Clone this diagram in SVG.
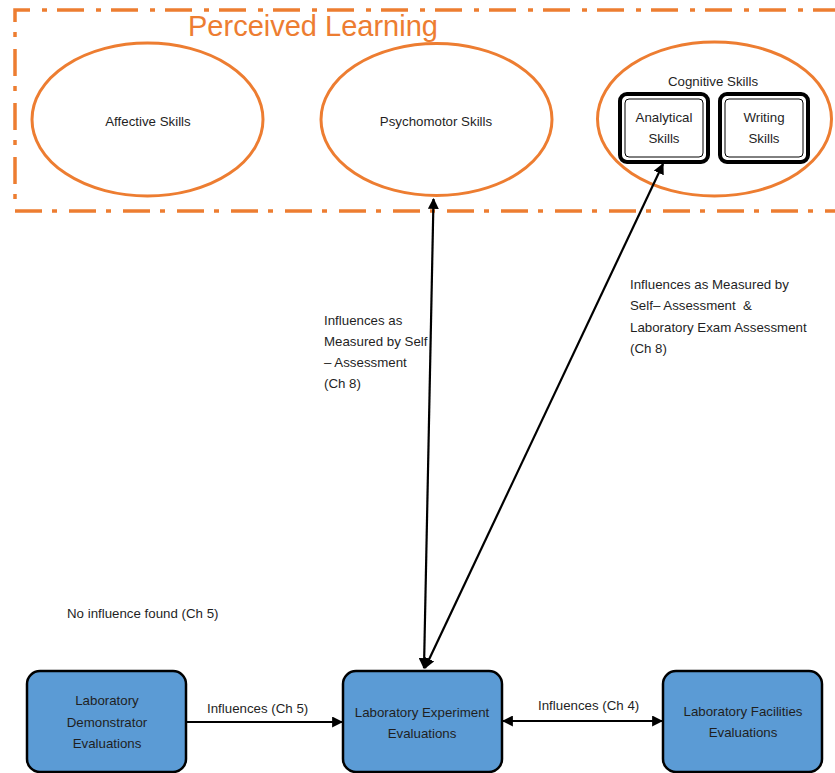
<svg xmlns="http://www.w3.org/2000/svg" width="835" height="773" viewBox="0 0 835 773">
  <style>
    .t { font-family: "Liberation Sans", Arial, sans-serif; font-size: 13.3px; fill: #1f1f1f; }
    .c { text-anchor: middle; }
    .oval { fill: #ffffff; stroke: #ED7D31; stroke-width: 3; }
    .box { fill: #5B9BD5; stroke: #000000; stroke-width: 2.5; }
    .conn { stroke: #000000; stroke-width: 2.2; fill: none; }
  </style>
  <defs>
    <marker id="head" viewBox="0 0 10 10" refX="9" refY="5" markerWidth="5" markerHeight="5" orient="auto-start-reverse" markerUnits="strokeWidth">
      <path d="M0,0 L10,5 L0,10 Z" fill="#000"/>
    </marker>
  </defs>
  <rect width="835" height="773" fill="#ffffff"/>

  <!-- Perceived Learning boundary (open on the right) -->
  <g id="perceived-learning">
    <path d="M840,10 L15,10 L15,211 L840,211" fill="none" stroke="#ED7D31" stroke-width="3.5" stroke-dasharray="27 10 5 12"/>
    <text x="188" y="36" font-family="Liberation Sans, Arial, sans-serif" font-size="29" fill="#ED7D31">Perceived Learning</text>
  </g>

  <g id="affective">
    <ellipse class="oval" cx="147.5" cy="119.5" rx="115.5" ry="76.5"/>
    <text class="t c" x="148" y="126">Affective Skills</text>
  </g>

  <g id="psychomotor">
    <ellipse class="oval" cx="436.5" cy="119.5" rx="115.5" ry="76"/>
    <text class="t c" x="436" y="126">Psychomotor Skills</text>
  </g>

  <g id="cognitive">
    <ellipse class="oval" cx="714.5" cy="119" rx="117" ry="77"/>
    <text class="t c" x="713" y="86">Cognitive Skills</text>
  </g>

  <g id="analytical">
    <rect x="620" y="94" width="88" height="68" rx="7" fill="#fff" stroke="#000" stroke-width="4"/>
    <rect x="625" y="99" width="78" height="58" rx="4" fill="#fff" stroke="#000" stroke-width="1"/>
    <text class="t c" x="664" y="122">Analytical</text>
    <text class="t c" x="664" y="143">Skills</text>
  </g>

  <g id="writing">
    <rect x="720" y="94" width="88" height="68" rx="7" fill="#fff" stroke="#000" stroke-width="4"/>
    <rect x="725" y="99" width="78" height="58" rx="4" fill="#fff" stroke="#000" stroke-width="1"/>
    <text class="t c" x="764" y="122">Writing</text>
    <text class="t c" x="764" y="143">Skills</text>
  </g>

  <g id="demonstrator">
    <rect class="box" x="27" y="671" width="159" height="101" rx="13"/>
    <text class="t c" x="107" y="705">Laboratory</text>
    <text class="t c" x="107" y="727">Demonstrator</text>
    <text class="t c" x="107" y="748">Evaluations</text>
  </g>

  <g id="experiment">
    <rect class="box" x="343" y="671" width="159" height="101" rx="13"/>
    <text class="t c" x="422" y="717">Laboratory Experiment</text>
    <text class="t c" x="422" y="738">Evaluations</text>
  </g>

  <g id="facilities">
    <rect class="box" x="663" y="671" width="159" height="101" rx="13"/>
    <text class="t c" x="743" y="716">Laboratory Facilities</text>
    <text class="t c" x="743" y="737">Evaluations</text>
  </g>

  <g id="connectors">
    <line class="conn" x1="433.5" y1="199" x2="424" y2="668" marker-start="url(#head)" marker-end="url(#head)"/>
    <line class="conn" x1="663" y1="164" x2="425" y2="668" marker-start="url(#head)" marker-end="url(#head)"/>
    <line class="conn" x1="186" y1="722" x2="342" y2="722" marker-end="url(#head)"/>
    <line class="conn" x1="503" y1="721" x2="662" y2="721" marker-start="url(#head)" marker-end="url(#head)"/>
  </g>

  <g id="labels">
    <text class="t" x="324" y="325">Influences as</text>
    <text class="t" x="324" y="346">Measured by Self</text>
    <text class="t" x="324" y="367">– Assessment</text>
    <text class="t" x="324" y="388">(Ch 8)</text>

    <text class="t" x="630" y="289">Influences as Measured by</text>
    <text class="t" x="630" y="310" xml:space="preserve">Self– Assessment  &amp;</text>
    <text class="t" x="630" y="332">Laboratory Exam Assessment</text>
    <text class="t" x="630" y="353">(Ch 8)</text>

    <text class="t" x="67" y="618">No influence found (Ch 5)</text>
    <text class="t" x="207" y="713">Influences (Ch 5)</text>
    <text class="t" x="538" y="710">Influences (Ch 4)</text>
  </g>
</svg>
